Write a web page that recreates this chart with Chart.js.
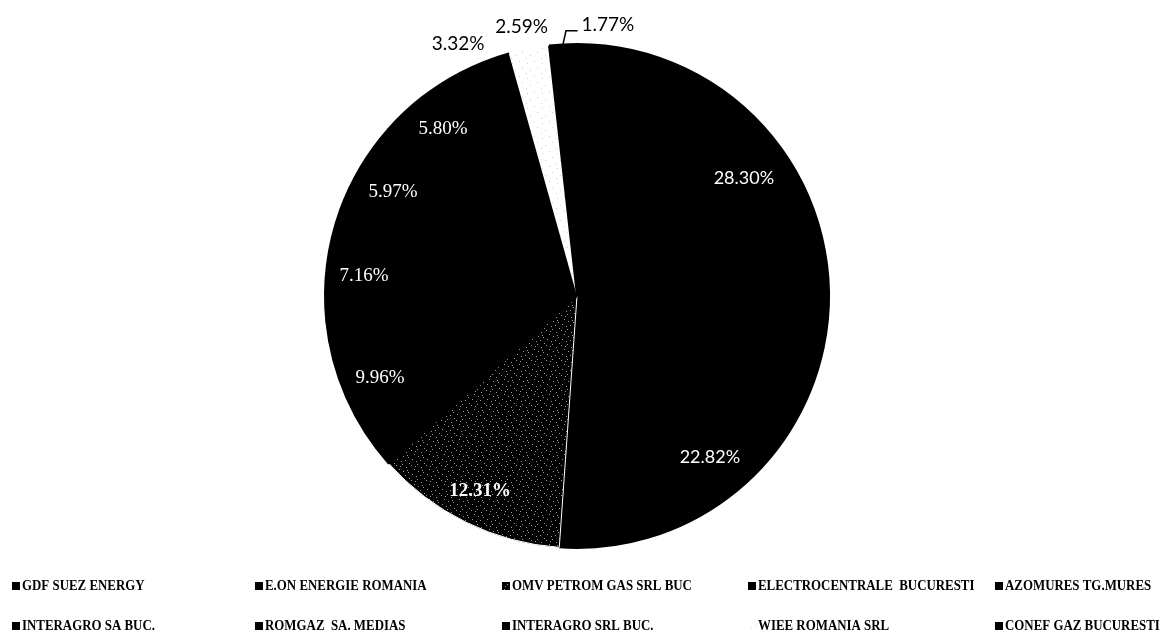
<!DOCTYPE html>
<html>
<head>
<meta charset="utf-8">
<script src="https://cdn.jsdelivr.net/npm/chart.js@4.4.0/dist/chart.umd.min.js"></script>
<style>
html,body{margin:0;padding:0;background:#fff;}
#wrap{width:1161px;height:630px;position:relative;overflow:hidden;}
</style>
</head>
<body>
<div id="wrap"><canvas id="c" width="1161" height="630"></canvas></div>
<script>
// ---- data ----
const categories = [
  "GDF SUEZ ENERGY",
  "E.ON ENERGIE ROMANIA",
  "OMV PETROM GAS SRL BUC",
  "ELECTROCENTRALE  BUCURESTI",
  "AZOMURES TG.MURES",
  "INTERAGRO SA BUC.",
  "ROMGAZ  SA. MEDIAS",
  "INTERAGRO SRL BUC.",
  "WIEE ROMANIA SRL",
  "CONEF GAZ BUCURESTI"
];
const shares = [28.30, 22.82, 12.31, 9.96, 7.16, 5.97, 5.80, 3.32, 2.59, 1.77];
const shareLabels = ["28.30%", "22.82%", "12.31%", "9.96%", "7.16%", "5.97%", "5.80%", "3.32%", "2.59%", "1.77%"];

// ---- styles ----
function makePattern(bg, dot, pts, size) {
  const c = document.createElement('canvas');
  c.width = size; c.height = size;
  const x = c.getContext('2d');
  x.fillStyle = bg; x.fillRect(0, 0, size, size);
  x.fillStyle = dot;
  pts.forEach(p => x.fillRect(p[0], p[1], 1, 1));
  return x.createPattern(c, 'repeat');
}
const speckDark = makePattern('#000', '#9a9a9a',
  [[1,2],[6,0],[3,7],[9,4],[0,10],[7,9],[11,11],[4,13],[13,6],[10,1],[2,5],[12,14]], 15);
const speckLight = makePattern('#fff', '#d0d0d0',
  [[2,3],[9,1],[5,10],[12,7],[1,13]], 15);

const sliceColors = ['#000', '#000', speckDark, '#000', '#000', '#000', '#000', '#000', speckLight, '#000'];
const borderColors = ['#000', '#000', '#fff', '#000', '#000', '#000', '#000', '#000', '#fff', '#000'];
const borderWidths = [2, 2, 1, 2, 2, 2, 2, 2, 0, 2];

// label placement: radial factor and angular nudge (deg)
const labelRadius = [0.81, 0.83, 0.864, 0.847, 0.849, 0.839, 0.85, 1.106, 1.09, 1.083];
const labelNudge = [3.9, -2.4, 0.2, 1.1, -1.7, -1.2, -0.6, -3.6, -0.6, 9.7];
const labelInside = [true, true, true, true, true, true, true, false, false, false];
const labelFonts = [
  '18px Lato, sans-serif',
  '18px Lato, sans-serif',
  'bold 19px "Liberation Serif", serif',
  '19px "Liberation Serif", serif',
  '19px "Liberation Serif", serif',
  '19px "Liberation Serif", serif',
  '19px "Liberation Serif", serif',
  '19px Lato, sans-serif',
  '19px Lato, sans-serif',
  '19px Lato, sans-serif'
];

const labelPlugin = {
  id: 'sliceLabels',
  afterDatasetsDraw(chart) {
    const ctx = chart.ctx;
    const meta = chart.getDatasetMeta(0);
    ctx.save();
    ctx.textAlign = 'center';
    ctx.textBaseline = 'middle';
    meta.data.forEach((arc, i) => {
      const p = arc.getProps(['x', 'y', 'startAngle', 'endAngle', 'outerRadius'], true);
      const mid = (p.startAngle + p.endAngle) / 2 + labelNudge[i] * Math.PI / 180;
      const r = p.outerRadius * labelRadius[i];
      const tx = p.x + Math.cos(mid) * r;
      const ty = p.y + Math.sin(mid) * r;
      ctx.font = labelFonts[i];
      if (labelInside[i]) {
        ctx.fillStyle = '#fff';
        ctx.fillText(shareLabels[i], tx, ty);
      } else {
        ctx.fillStyle = '#000';
        if (i === categories.length - 1) {
          // leader line
          const realMid = (p.startAngle + p.endAngle) / 2;
          const sx = p.x + Math.cos(realMid) * p.outerRadius;
          const sy = p.y + Math.sin(realMid) * p.outerRadius;
          const w = ctx.measureText(shareLabels[i]).width;
          ctx.strokeStyle = '#000';
          ctx.lineWidth = 1.5;
          ctx.beginPath();
          ctx.moveTo(sx, sy);
          ctx.lineTo(sx + 3, ty + 6);
          ctx.lineTo(tx - w / 2 - 4, ty + 6);
          ctx.stroke();
        }
        ctx.fillText(shareLabels[i], tx, ty);
      }
    });
    ctx.restore();
  }
};

const legendCols = [12, 255, 502, 748, 995];
const legendRows = [586, 626];
const legendPlugin = {
  id: 'gridLegend',
  afterDraw(chart) {
    const ctx = chart.ctx;
    const ds = chart.data.datasets[0];
    ctx.save();
    ctx.textBaseline = 'middle';
    ctx.textAlign = 'left';
    ctx.font = 'bold 15px "Liberation Serif", "DejaVu Serif", serif';
    chart.data.labels.forEach((lab, i) => {
      const x = legendCols[i % 5];
      const y = legendRows[Math.floor(i / 5)];
      ctx.fillStyle = ds.backgroundColor[i];
      ctx.fillRect(x, y - 4, 8, 8);
      ctx.save();
      ctx.translate(x + 10, y);
      ctx.scale(0.86, 1);
      ctx.fillStyle = '#000';
      ctx.fillText(lab, 0, 0);
      ctx.restore();
    });
    ctx.restore();
  }
};

new Chart(document.getElementById('c'), {
  type: 'pie',
  data: {
    labels: categories,
    datasets: [{
      data: shares,
      backgroundColor: sliceColors,
      borderColor: borderColors,
      borderWidth: borderWidths
    }]
  },
  options: {
    responsive: false,
    animation: false,
    devicePixelRatio: 1,
    rotation: 0,
    layout: { padding: { top: 43, bottom: 81, left: 0, right: 7 } },
    plugins: {
      legend: { display: false },
      tooltip: { enabled: false }
    }
  },
  plugins: [labelPlugin, legendPlugin]
});
</script>
</body>
</html>
